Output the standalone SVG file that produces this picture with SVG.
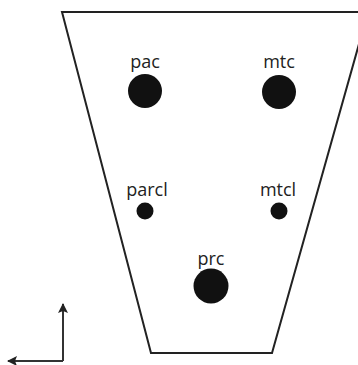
<svg xmlns="http://www.w3.org/2000/svg" width="358" height="365" viewBox="0 0 358 365">
  <defs>
    <marker id="arrow" viewBox="0 0 10 10" refX="9" refY="5" markerWidth="10" markerHeight="10" orient="auto" markerUnits="userSpaceOnUse">
      <path d="M0,0 L10,5 L0,10 L2,5 z" fill="#222"/>
    </marker>
  </defs>
  <style>
    .outline { fill: #fff; stroke: #222; stroke-width: 2; }
    .dot { fill: #111; }
    .label { font-family: "Open Sans", "Liberation Sans", sans-serif; font-size: 18px; fill: #222; text-anchor: middle; }
    .axis { fill: none; stroke: #333; stroke-width: 2; }
  </style>
  <rect width="358" height="365" fill="#fff"/>
  <polygon class="outline" points="62,12 368,12 272,353 151,353"/>
  <g id="pac">
    <circle class="dot" cx="145" cy="91" r="17"/>
    <text class="label" x="145" y="68">pac</text>
  </g>
  <g id="mtc">
    <circle class="dot" cx="279" cy="92" r="17"/>
    <text class="label" x="279" y="68">mtc</text>
  </g>
  <g id="parcl">
    <circle class="dot" cx="145" cy="211" r="8.5"/>
    <text class="label" x="147" y="196">parcl</text>
  </g>
  <g id="mtcl">
    <circle class="dot" cx="279" cy="211" r="8.5"/>
    <text class="label" x="278" y="196">mtcl</text>
  </g>
  <g id="prc">
    <circle class="dot" cx="211" cy="286" r="17.5"/>
    <text class="label" x="211" y="265">prc</text>
  </g>
  <g id="connectors">
    <path class="axis" d="M63,361 L63,304" marker-end="url(#arrow)"/>
    <path class="axis" d="M63,361 L8,361" marker-end="url(#arrow)"/>
  </g>
</svg>
